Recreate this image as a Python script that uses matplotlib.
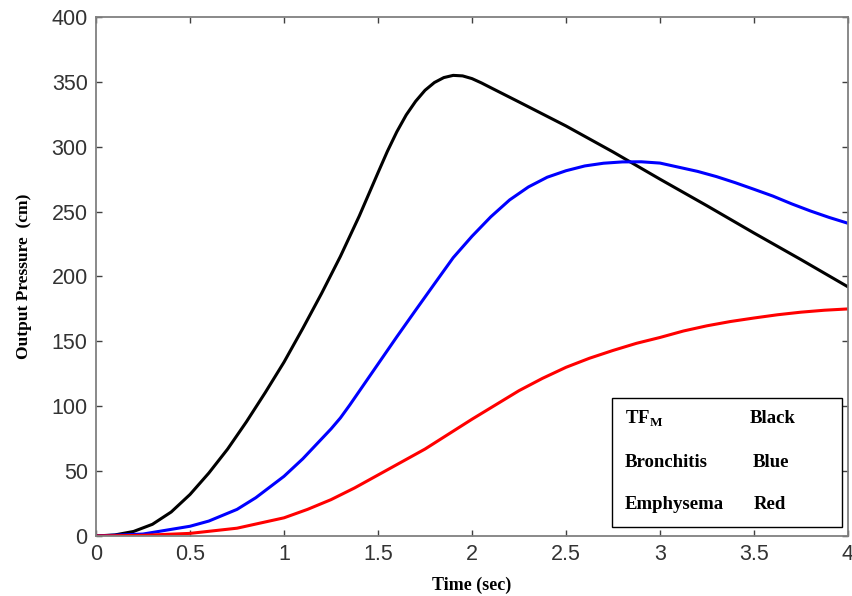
import numpy as np
import matplotlib.pyplot as plt
from matplotlib.patches import Rectangle

plt.rcParams['mathtext.fontset'] = 'custom'
plt.rcParams['mathtext.bf'] = 'Liberation Serif:bold'
plt.rcParams['mathtext.rm'] = 'Liberation Serif:bold'

# Data
t_black = [0, 0.1, 0.2, 0.3, 0.4, 0.5, 0.6, 0.7, 0.8, 0.9, 1.0, 1.1, 1.2, 1.3, 1.4,
           1.5, 1.55, 1.6, 1.65, 1.7, 1.75, 1.8, 1.85, 1.9, 1.95, 2.0, 2.05, 2.1,
           2.25, 2.5, 2.75, 3.0, 3.25, 3.5, 3.75, 4.0]
p_black = [0, 0.8, 3.5, 9, 18.5, 32, 48.5, 67, 88, 110.5, 134, 160, 187, 215.5, 246.5,
           280, 296.5, 311.5, 324.5, 335, 343.5, 349.5, 353.3, 355, 354.6, 352.5, 349.2, 345.5,
           334.5, 316, 296, 275, 254.5, 233.5, 213, 192]

t_blue = [0, 0.25, 0.5, 0.6, 0.75, 0.85, 1.0, 1.1, 1.25, 1.3, 1.35, 1.4, 1.5, 1.6,
          1.7, 1.8, 1.9, 2.0, 2.1, 2.2, 2.3, 2.4, 2.5, 2.6, 2.7, 2.8, 2.9, 3.0,
          3.1, 3.2, 3.3, 3.4, 3.5, 3.6, 3.7, 3.8, 3.9, 4.0]
p_blue = [0, 1.5, 7.5, 11.5, 20.5, 29.5, 46, 59.5, 82.5, 91, 101, 111.5, 132.5, 153.5,
          174, 194.3, 214.5, 231, 246, 259, 269, 276.5, 281.5, 285.2, 287.3, 288.3, 288.4, 287.4,
          284.2, 281, 277, 272.3, 267.2, 262, 256, 250.5, 245.5, 241]

t_red = [0, 0.25, 0.5, 0.75, 1.0, 1.125, 1.25, 1.375, 1.5, 1.625, 1.75, 1.875, 2.0,
         2.125, 2.25, 2.375, 2.5, 2.625, 2.75, 2.875, 3.0, 3.125, 3.25, 3.375, 3.5,
         3.625, 3.75, 3.875, 4.0]
p_red = [0, 0.5, 2, 6, 14, 20.5, 28, 37, 47, 57, 67, 78.5, 90,
         101, 112, 121.5, 130, 137, 143, 148.5, 153, 158, 162, 165.3, 168,
         170.5, 172.5, 174, 175]

legend_names = [r'$\mathbf{TF}_\mathbf{M}$', 'Bronchitis', 'Emphysema']
legend_colors = ['Black', 'Blue', 'Red']

fig = plt.figure(figsize=(8.52, 5.96), dpi=100)
ax = fig.add_axes([0.1127, 0.1007, 0.8826, 0.8708])

ax.plot(t_black, p_black, color='black', lw=2.2)
ax.plot(t_blue, p_blue, color='#0000ff', lw=2.2)
ax.plot(t_red, p_red, color='#ff0000', lw=2.2)

ax.set_xlim(0, 4)
ax.set_ylim(0, 400)
ax.set_xticks(np.arange(0, 4.01, 0.5))
ax.set_xticklabels(['0', '0.5', '1', '1.5', '2', '2.5', '3', '3.5', '4'])
ax.set_yticks(np.arange(0, 401, 50))

for s in ax.spines.values():
    s.set_color('#808080')
    s.set_linewidth(1.3)
ax.tick_params(direction='in', top=True, right=True, length=4, width=1,
               color='#404040', labelsize=15.5, labelcolor='#333333', pad=6)
for lab in ax.get_xticklabels() + ax.get_yticklabels():
    lab.set_family('Liberation Sans')

ax.set_xlabel('Time (sec)', family='Liberation Serif', fontweight='bold',
              fontsize=13, labelpad=8)
ax.set_ylabel('Output Pressure  (cm)', family='Liberation Serif', fontweight='bold',
              fontsize=12.5, labelpad=14)

# legend box drawn as text
ax.add_patch(Rectangle((2.745, 6.9), 1.223, 99.5, fill=False, ec='black', lw=1.0,
                       zorder=5))
rows_y = [90.2, 57.0, 23.9]
col2_x = [3.479, 3.495, 3.5]
for name, col, y, x2 in zip(legend_names, legend_colors, rows_y, col2_x):
    ax.text(2.814, y, name, family='Liberation Serif', fontweight='bold',
            fontsize=13.5, va='center', ha='left', zorder=6)
    ax.text(x2, y, col, family='Liberation Serif', fontweight='bold',
            fontsize=13.5, va='center', ha='left', zorder=6)

fig.savefig('out.png', dpi=100)
